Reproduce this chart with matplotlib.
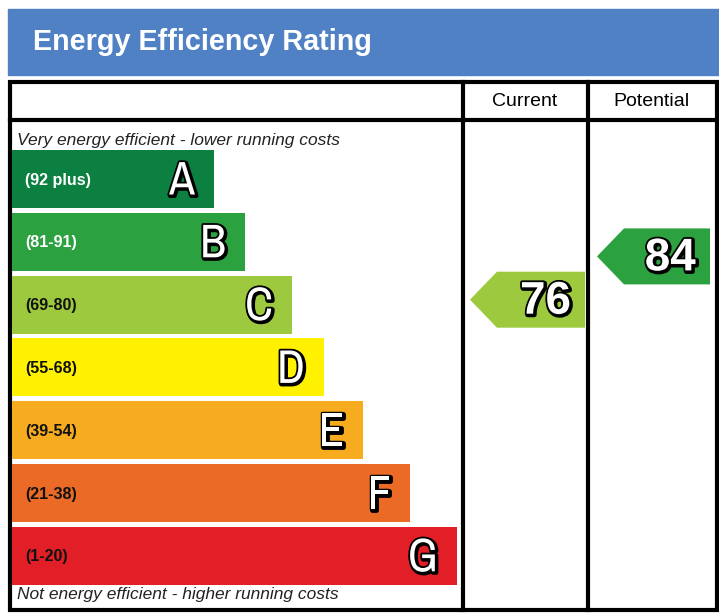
import matplotlib
matplotlib.use("Agg")
import matplotlib.pyplot as plt
import matplotlib.patheffects as pe
from matplotlib.patches import Rectangle, Polygon

# data
bands = ["A", "B", "C", "D", "E", "F", "G"]
ranges = ["(92 plus)", "(81-91)", "(69-80)", "(55-68)", "(39-54)", "(21-38)", "(1-20)"]
band_lo = [92, 81, 69, 55, 39, 21, 1]
band_hi = [100, 91, 80, 68, 54, 38, 20]
band_colors = ["#0c8041", "#2ba140", "#9cc93d", "#fff100", "#f6ac1e", "#eb6b26", "#e21e26"]
current = 76
potential = 84

# layout (pixel space)
W, H = 719, 613
bar_left = 12
bar_right = [214, 245, 292, 324, 363, 410, 457]
row_top = 150
row_pitch = 62.8
row_h = 58

fig = plt.figure(figsize=(W / 100, H / 100), dpi=100)
ax = fig.add_axes([0, 0, 1, 1])
ax.set_xlim(0, W)
ax.set_ylim(H, 0)
ax.axis("off")

# title banner
ax.add_patch(Rectangle((8, 9), W - 8, 66, color="#4f81c4"))
ax.text(33, 42, "Energy Efficiency Rating", color="white", fontsize=20.7,
        fontweight="bold", family="Liberation Sans", va="center")

# table lines
lw = 3
ax.add_patch(Rectangle((9.5, 82), 707, 528, fill=False, lw=lw, ec="black"))
ax.plot([9.5, 716.5], [120, 120], color="black", lw=lw)
ax.plot([462.5, 462.5], [82, 610], color="black", lw=lw)
ax.plot([587.5, 587.5], [82, 610], color="black", lw=lw)
ax.text(525, 102, "Current", fontsize=14, family="Liberation Sans", ha="center", va="center")
ax.text(651, 102, "Potential", fontsize=14, family="Liberation Sans", ha="center", va="center")

ax.text(17, 141, "Very energy efficient - lower running costs", fontsize=12.5,
        style="italic", family="Liberation Sans", color="#222222", va="center")
ax.text(17, 594, "Not energy efficient - higher running costs", fontsize=12.5,
        style="italic", family="Liberation Sans", color="#222222", va="center")

outline = [pe.withStroke(linewidth=3.5, foreground="black", offset=(0.8, -0.8)),
           pe.Stroke(linewidth=2.5, foreground="black"), pe.Normal()]
letter_font = ["Archivo Narrow", "Liberation Sans"]

centers = [row_top + row_h / 2 + i * row_pitch for i in range(len(bands))]
ax.barh(centers, [r - bar_left for r in bar_right], left=bar_left, height=row_h,
        color=band_colors)
for i, (b, r) in enumerate(zip(bands, ranges)):
    tc = "white" if i < 2 else "#111111"
    ax.text(25, centers[i] + 1, r, color=tc, fontsize=11.6, fontweight="bold",
            family="Liberation Sans", va="center")
    ax.text(bar_right[i] - 19, centers[i] + 2, b, color="white", fontsize=34,
            fontweight="bold", family=letter_font, ha="right", va="center",
            path_effects=outline)


def rating_arrow(value, x_tip, x_right):
    i = next(k for k in range(len(bands)) if band_lo[k] <= value <= band_hi[k])
    top = centers[i] - row_h / 2
    frac = (band_hi[i] - value) / (band_hi[i] - band_lo[i])
    yc = top + frac * row_h + 3
    h = 56
    pts = [(x_tip, yc), (x_tip + 27, yc - h / 2), (x_right, yc - h / 2),
           (x_right, yc + h / 2), (x_tip + 27, yc + h / 2)]
    ax.add_patch(Polygon(pts, closed=True, color=band_colors[i], lw=0))
    ax.text(x_right - 14, yc + 2, str(value), color="white", fontsize=33,
            fontweight="bold", family="Liberation Sans", ha="right", va="center",
            path_effects=outline)


rating_arrow(current, 470, 585)
rating_arrow(potential, 597, 710)

fig.savefig("out.png", dpi=100)
